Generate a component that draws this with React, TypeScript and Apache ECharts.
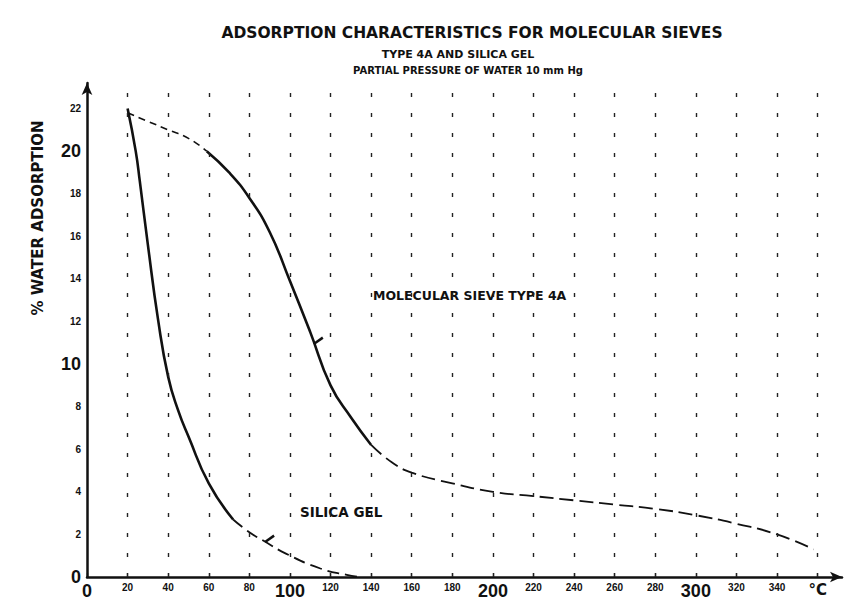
import React, { useEffect, useRef } from "react";
import * as echarts from "echarts";

// ---- data ----
const titleLines = [
  "ADSORPTION CHARACTERISTICS FOR MOLECULAR SIEVES",
  "TYPE 4A AND SILICA GEL",
  "PARTIAL PRESSURE OF WATER 10 mm Hg",
];
const yAxisName = "% WATER ADSORPTION";
const sieveLabel = "MOLECULAR SIEVE TYPE 4A";
const silicaLabel = "SILICA GEL";

// Molecular sieve type 4A (temperature °C, % water adsorption)
const sieveTemps = [20, 30, 40, 50, 59, 70, 80, 90, 100, 110, 120, 130, 140, 150, 160, 180, 200, 220, 240, 260, 280, 300, 320, 340, 358];
const sieveValues = [21.8, 21.4, 21.0, 20.6, 20.0, 19.0, 17.8, 16.2, 13.9, 11.5, 9.0, 7.5, 6.2, 5.4, 4.9, 4.4, 4.0, 3.8, 3.6, 3.4, 3.2, 2.9, 2.5, 2.0, 1.3];
const sieveSolidFrom = 59;
const sieveSolidTo = 140;
const sieveLeader = [112, 11.0];

// Silica gel
const silicaTemps = [20, 24, 26, 30, 35, 40, 45, 50, 60, 72, 80, 87, 98, 115, 128, 135];
const silicaValues = [22.0, 20.0, 18.6, 15.6, 12.1, 9.4, 7.8, 6.6, 4.4, 2.7, 2.1, 1.7, 1.1, 0.4, 0.1, 0];
const silicaSolidTo = 72;
const silicaLeader = [88, 1.7];

// axes
const gridTemps = [20, 40, 60, 80, 100, 120, 140, 160, 180, 200, 220, 240, 260, 280, 300, 320, 340, 360];
const bigXLabels = [0, 100, 200, 300];
const bigYLabels = [0, 10, 20];

const pairs = (t: number[], v: number[]) => t.map((x, i) => [x, v[i]]);
const seg = (t: number[], v: number[], from: number, to: number) =>
  pairs(t, v).filter((p) => p[0] >= from && p[0] <= to);

const FONT = "'DejaVu Sans', 'Liberation Sans', sans-serif";
const NARROW = "'Liberation Sans Narrow', 'Liberation Sans', sans-serif";
const INK = "#111";

const leaderMark = (coord: number[], rotate: number) => ({
  silent: true,
  symbol: "rect",
  symbolSize: [2.5, 11],
  symbolRotate: rotate,
  symbolOffset: [4, -2],
  itemStyle: { color: INK },
  label: { show: false },
  data: [{ coord }],
});

export default function App() {
  const ref = useRef<HTMLDivElement>(null);
  useEffect(() => {
    if (!ref.current) return;
    const chart = echarts.init(ref.current, undefined, { renderer: "svg" });
    const solid = { color: INK, width: 2.6 };
    const dashed = { color: INK, width: 1.6, type: [7, 5] as any };
    const txt = (text: string, x: number, y: number, size: number, align = "center", rotation = 0) => ({
      type: "text",
      x,
      y,
      rotation,
      style: { text, font: `bold ${size}px ${FONT}`, fill: INK, textAlign: align, textVerticalAlign: "middle" },
    });
    chart.setOption({
      animation: false,
      backgroundColor: "#fff",
      grid: { left: 87, right: 15, top: 83, bottom: 26 },
      graphic: [
        txt(titleLines[0], 472, 33, 15.5),
        txt(titleLines[1], 458, 54, 11),
        txt(titleLines[2], 468, 70, 10),
        txt(sieveLabel, 373, 295, 12.5, "left"),
        txt(silicaLabel, 300, 512, 13.5, "left"),
        txt(yAxisName, 38, 218, 15, "center", Math.PI / 2),
      ],
      xAxis: {
        type: "value",
        min: 0,
        max: 372,
        interval: 20,
        axisLine: { show: true, lineStyle: { color: INK, width: 2.5 }, symbol: ["none", "arrow"], symbolSize: [8, 12] },
        axisTick: { show: true, inside: true, length: 4, lineStyle: { color: INK, width: 1.2 } },
        splitLine: { show: false },
        axisLabel: {
          margin: 5,
          color: INK,
          showMaxLabel: false,
          formatter: (v: number) => {
            if (v % 20 !== 0) return "";
            if (v === 360) return "{u|°C}";
            return bigXLabels.includes(v) ? `{b|${v}}` : `{s|${v}}`;
          },
          rich: {
            b: { fontSize: 18, fontWeight: "bold", fontFamily: NARROW, color: INK },
            s: { fontSize: 10, fontWeight: "bold", fontFamily: NARROW, color: INK },
            u: { fontSize: 15, fontWeight: "bold", fontFamily: FONT, color: INK },
          },
        },
      },
      yAxis: {
        type: "value",
        min: 0,
        max: 23.2,
        interval: 2,
        axisLine: { show: true, lineStyle: { color: INK, width: 2.5 }, symbol: ["none", "arrow"], symbolSize: [8, 12] },
        axisTick: { show: false },
        splitLine: { show: false },
        axisLabel: {
          margin: 6,
          color: INK,
          showMaxLabel: false,
          formatter: (v: number) => {
            if (v % 2 !== 0) return "";
            return bigYLabels.includes(v) ? `{b|${v}}` : `{s|${v}}`;
          },
          rich: {
            b: { fontSize: 18, fontWeight: "bold", fontFamily: NARROW, color: INK },
            s: { fontSize: 10, fontWeight: "bold", fontFamily: NARROW, color: INK },
          },
        },
      },
      series: [
        {
          name: "grid",
          type: "line",
          data: [],
          markLine: {
            silent: true,
            symbol: "none",
            label: { show: false },
            lineStyle: { color: "#222", width: 1.4, type: [4, 16] },
            data: gridTemps.map((t) => ({ xAxis: t })),
          },
        },
        {
          name: "Molecular sieve (dashed start)",
          type: "line",
          showSymbol: false,
          smooth: true,
          lineStyle: dashed,
          data: seg(sieveTemps, sieveValues, 0, sieveSolidFrom),
        },
        {
          name: "Molecular sieve 4A",
          type: "line",
          showSymbol: false,
          smooth: true,
          lineStyle: solid,
          data: seg(sieveTemps, sieveValues, sieveSolidFrom, sieveSolidTo),
          markPoint: leaderMark(sieveLeader, -55),
        },
        {
          name: "Molecular sieve (dashed end)",
          type: "line",
          showSymbol: false,
          smooth: true,
          lineStyle: { color: INK, width: 1.8, type: [14, 6] },
          data: seg(sieveTemps, sieveValues, sieveSolidTo, 400),
        },
        {
          name: "Silica gel",
          type: "line",
          showSymbol: false,
          smooth: true,
          lineStyle: solid,
          data: seg(silicaTemps, silicaValues, 0, silicaSolidTo),
        },
        {
          name: "Silica gel (dashed)",
          type: "line",
          showSymbol: false,
          smooth: true,
          lineStyle: { color: INK, width: 1.8, type: [12, 6] },
          data: seg(silicaTemps, silicaValues, silicaSolidTo, 400),
          markPoint: leaderMark(silicaLeader, -55),
        },
      ],
    });
    return () => chart.dispose();
  }, []);
  return <div ref={ref} style={{ position: "fixed", left: 0, top: 0, width: 857, height: 603, background: "#fff" }} />;
}
